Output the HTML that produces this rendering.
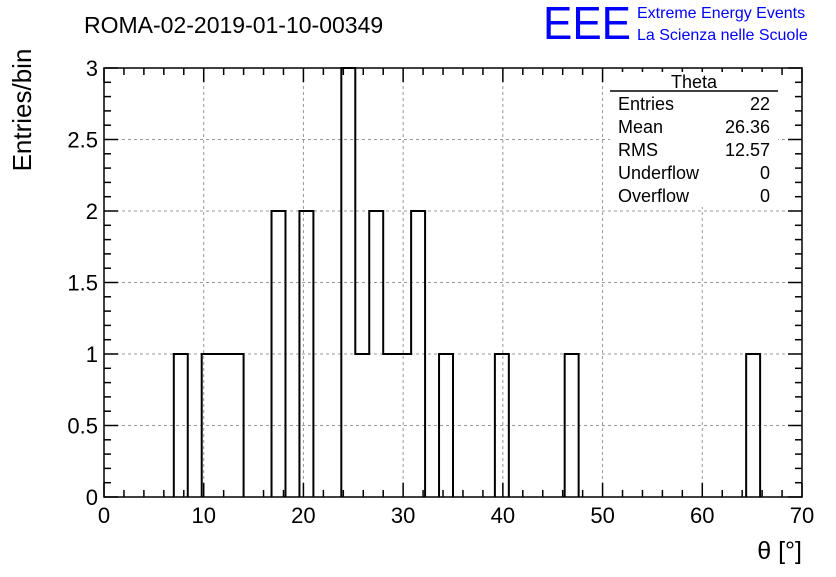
<!DOCTYPE html>
<html><head><meta charset="utf-8"><style>
body{margin:0;background:#fff;}
svg{font-family:"Liberation Sans",sans-serif;}
</style></head><body>
<svg id="chart" width="836" height="572" viewBox="0 0 836 572">
<rect width="836" height="572" fill="#fff"/>
<text x="84" y="33" font-size="23">ROMA-02-2019-01-10-00349</text>
<text x="543" y="39" font-size="46" fill="#0000ff" textLength="88" lengthAdjust="spacingAndGlyphs">EEE</text>
<text x="637" y="18" font-size="16" fill="#0000ff">Extreme Energy Events</text>
<text x="637" y="40" font-size="16" fill="#0000ff">La Scienza nelle Scuole</text>
<g id="grid"></g>
<g id="bars"></g>
<g id="axes"></g>
<text x="31" y="110" font-size="26" transform="rotate(-90 31 110)" text-anchor="middle">Entries/bin</text>
<text x="802" y="559" font-size="25" text-anchor="end">θ [°]</text>
<g font-size="18">
<rect x="610" y="72" width="168" height="135" fill="#fff"/>
<text x="694" y="88" text-anchor="middle">Theta</text>
<line x1="610" y1="91" x2="778" y2="91" stroke="#000" stroke-width="1.5"/>
<text x="618" y="110">Entries</text><text x="770" y="110" text-anchor="end">22</text>
<text x="618" y="133">Mean</text><text x="770" y="133" text-anchor="end">26.36</text>
<text x="618" y="156">RMS</text><text x="770" y="156" text-anchor="end">12.57</text>
<text x="618" y="179">Underflow</text><text x="770" y="179" text-anchor="end">0</text>
<text x="618" y="202">Overflow</text><text x="770" y="202" text-anchor="end">0</text>
</g>
</svg>
<script>
const binWidth = 1.4;
const binStarts = [7.0, 9.8, 11.2, 12.6, 16.8, 19.6, 23.8, 25.2, 26.6, 28.0, 29.4, 30.8, 33.6, 39.2, 46.2, 64.4];
const binCounts = [1, 1, 1, 1, 2, 2, 3, 1, 2, 1, 1, 2, 1, 1, 1, 1];
const xTicks = [0,10,20,30,40,50,60,70];
const yTicks = [0,0.5,1,1.5,2,2.5,3];
const yTickLabels = ["0","0.5","1","1.5","2","2.5","3"];
const NS="http://www.w3.org/2000/svg";
const X0=104,X1=802,Y0=497,Y1=68;
const sx=v=>X0+(v-0)/(70-0)*(X1-X0);
const sy=v=>Y0-(v-0)/(3-0)*(Y0-Y1);
function mk(tag,attrs,parent){const e=document.createElementNS(NS,tag);for(const k in attrs)e.setAttribute(k,attrs[k]);document.getElementById(parent).appendChild(e);return e;}
xTicks.forEach(t=>{if(t>0&&t<70){const l=mk('line',{x1:sx(t),x2:sx(t),y1:Y0,y2:Y1,stroke:'#999','stroke-dasharray':'3,3'},'grid');

}});
yTicks.forEach(t=>{if(t>0&&t<3){const l=mk('line',{x1:X0,x2:X1,y1:sy(t),y2:sy(t),stroke:'#999','stroke-dasharray':'3,3'},'grid');

}});
let prevEnd=null;
const sorted=binStarts.map((s,i)=>[s,binCounts[i]]).sort((a,b)=>a[0]-b[0]);
let d='';
sorted.forEach(([s,c])=>{
  const e=s+binWidth;
  if(prevEnd===null||Math.abs(prevEnd-s)>1e-6){
    if(prevEnd!==null) d+=`L${sx(prevEnd)},${sy(0)} `;
    d+=`M${sx(s)},${sy(0)} `;
  }
  d+=`L${sx(s)},${sy(c)} L${sx(e)},${sy(c)} `;
  prevEnd=e;
});
d+=`L${sx(prevEnd)},${sy(0)}`;
const h=mk('path',{d:d,fill:'none',stroke:'#000','stroke-width':2},'bars');


sorted.forEach(([s,c])=>{
  const r=mk('rect',{x:sx(s),y:sy(c),width:sx(s+binWidth)-sx(s),height:sy(0)-sy(c),fill:'transparent'},'bars');
  
  
});
const f=mk('rect',{x:X0,y:Y1,width:X1-X0,height:Y0-Y1,fill:'none',stroke:'#000','stroke-width':1.5},'axes');


for(let v=0;v<=70+1e-6;v+=2){const maj=Math.abs(v%10)<1e-6;const L=maj?14:7;
 mk('line',{x1:sx(v),x2:sx(v),y1:Y0,y2:Y0-L,stroke:'#000','stroke-width':1.5},'axes');
 mk('line',{x1:sx(v),x2:sx(v),y1:Y1,y2:Y1+L,stroke:'#000','stroke-width':1.5},'axes');}
for(let i=0;i<=30;i++){const v=i/10;const maj=i%5===0;const L=maj?14:7;
 mk('line',{x1:X0,x2:X0+L,y1:sy(v),y2:sy(v),stroke:'#000','stroke-width':1.5},'axes');
 mk('line',{x1:X1,x2:X1-L,y1:sy(v),y2:sy(v),stroke:'#000','stroke-width':1.5},'axes');}
xTicks.forEach(t=>{const e=mk('text',{x:sx(t),y:523,'font-size':22,'text-anchor':'middle'},'axes');e.textContent=t;

});
yTicks.forEach((t,i)=>{const e=mk('text',{x:98,y:sy(t)+8,'font-size':22,'text-anchor':'end'},'axes');e.textContent=yTickLabels[i];

});
</script>
</body></html>
